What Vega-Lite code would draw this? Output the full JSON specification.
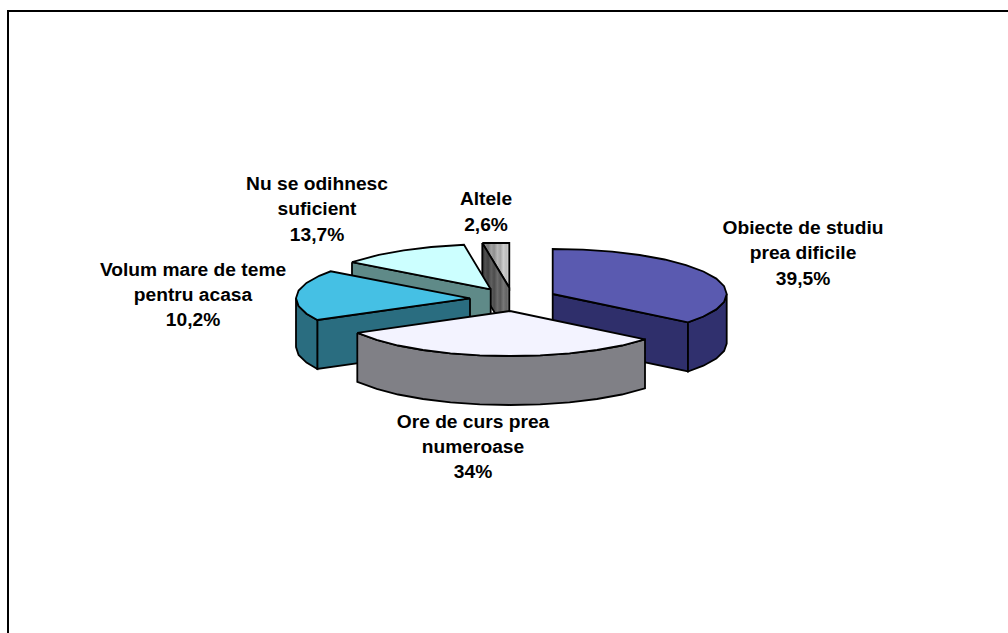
{
  "$schema": "https://vega.github.io/schema/vega-lite/v6.json",
  "autosize": {"type": "none"},
  "padding": 0,
  "width": 1008,
  "height": 633,
  "background": "white",
  "config": {"view": {"stroke": null}},
  "datasets": {
    "frame": [
      {"x": 8, "y": 633, "i": 1},
      {"x": 8, "y": 11, "i": 2},
      {"x": 1008, "y": 11, "i": 3}
    ],
    "faces": [
      {"part": "b_odihna_side", "i": 1, "x": 352, "y": 262.2},
      {"part": "b_odihna_side", "i": 2, "x": 490.7, "y": 289.3},
      {"part": "b_odihna_side", "i": 3, "x": 490.7, "y": 338},
      {"part": "b_odihna_side", "i": 4, "x": 352, "y": 311},
      {"part": "b_odihna_side", "i": 5, "x": 352, "y": 262.2},

      {"part": "c_odihna_top", "i": 1, "x": 490.7, "y": 289.3},
      {"part": "c_odihna_top", "i": 2, "x": 464, "y": 244.8},
      {"part": "c_odihna_top", "i": 3, "x": 431.2, "y": 247},
      {"part": "c_odihna_top", "i": 4, "x": 403.7, "y": 250.3},
      {"part": "c_odihna_top", "i": 5, "x": 378.8, "y": 254.8},
      {"part": "c_odihna_top", "i": 6, "x": 352, "y": 262.2},
      {"part": "c_odihna_top", "i": 7, "x": 490.7, "y": 289.3},

      {"part": "d_obiecte_front", "i": 1, "x": 552.7, "y": 294},
      {"part": "d_obiecte_front", "i": 2, "x": 688, "y": 322.3},
      {"part": "d_obiecte_front", "i": 3, "x": 688, "y": 371.5},
      {"part": "d_obiecte_front", "i": 4, "x": 552.7, "y": 343},
      {"part": "d_obiecte_front", "i": 5, "x": 552.7, "y": 294},

      {"part": "e_obiecte_rim", "i": 1, "x": 688, "y": 322.3},
      {"part": "e_obiecte_rim", "i": 2, "x": 703.4, "y": 316.5},
      {"part": "e_obiecte_rim", "i": 3, "x": 716.3, "y": 309.4},
      {"part": "e_obiecte_rim", "i": 4, "x": 724.1, "y": 301.8},
      {"part": "e_obiecte_rim", "i": 5, "x": 726.7, "y": 294},
      {"part": "e_obiecte_rim", "i": 6, "x": 726.7, "y": 343.5},
      {"part": "e_obiecte_rim", "i": 7, "x": 724.1, "y": 351},
      {"part": "e_obiecte_rim", "i": 8, "x": 716.3, "y": 358.6},
      {"part": "e_obiecte_rim", "i": 9, "x": 703.4, "y": 365.7},
      {"part": "e_obiecte_rim", "i": 10, "x": 688, "y": 371.5},
      {"part": "e_obiecte_rim", "i": 11, "x": 688, "y": 322.3},

      {"part": "f_obiecte_top", "i": 1, "x": 552.7, "y": 294},
      {"part": "f_obiecte_top", "i": 2, "x": 552.7, "y": 249},
      {"part": "f_obiecte_top", "i": 3, "x": 583, "y": 249.7},
      {"part": "f_obiecte_top", "i": 4, "x": 612.2, "y": 251.7},
      {"part": "f_obiecte_top", "i": 5, "x": 639.7, "y": 255},
      {"part": "f_obiecte_top", "i": 6, "x": 664.6, "y": 259.5},
      {"part": "f_obiecte_top", "i": 7, "x": 686, "y": 265.1},
      {"part": "f_obiecte_top", "i": 8, "x": 703.4, "y": 271.5},
      {"part": "f_obiecte_top", "i": 9, "x": 716.3, "y": 278.6},
      {"part": "f_obiecte_top", "i": 10, "x": 724.1, "y": 286.2},
      {"part": "f_obiecte_top", "i": 11, "x": 726.7, "y": 294},
      {"part": "f_obiecte_top", "i": 12, "x": 724.1, "y": 301.8},
      {"part": "f_obiecte_top", "i": 13, "x": 716.3, "y": 309.4},
      {"part": "f_obiecte_top", "i": 14, "x": 703.4, "y": 316.5},
      {"part": "f_obiecte_top", "i": 15, "x": 688, "y": 322.3},
      {"part": "f_obiecte_top", "i": 16, "x": 552.7, "y": 294},

      {"part": "g_volum_front", "i": 1, "x": 470, "y": 298.3},
      {"part": "g_volum_front", "i": 2, "x": 470, "y": 347.3},
      {"part": "g_volum_front", "i": 3, "x": 317.3, "y": 369},
      {"part": "g_volum_front", "i": 4, "x": 317.3, "y": 320},
      {"part": "g_volum_front", "i": 5, "x": 470, "y": 298.3},

      {"part": "h_volum_rim", "i": 1, "x": 317.3, "y": 320},
      {"part": "h_volum_rim", "i": 2, "x": 306.5, "y": 313.7},
      {"part": "h_volum_rim", "i": 3, "x": 298.6, "y": 306.1},
      {"part": "h_volum_rim", "i": 4, "x": 296, "y": 298.3},
      {"part": "h_volum_rim", "i": 5, "x": 296, "y": 347},
      {"part": "h_volum_rim", "i": 6, "x": 298.6, "y": 355},
      {"part": "h_volum_rim", "i": 7, "x": 306.5, "y": 362.6},
      {"part": "h_volum_rim", "i": 8, "x": 317.3, "y": 369},
      {"part": "h_volum_rim", "i": 9, "x": 317.3, "y": 320},

      {"part": "i_volum_top", "i": 1, "x": 470, "y": 298.3},
      {"part": "i_volum_top", "i": 2, "x": 330.7, "y": 271.3},
      {"part": "i_volum_top", "i": 3, "x": 319.3, "y": 275.8},
      {"part": "i_volum_top", "i": 4, "x": 306.5, "y": 282.9},
      {"part": "i_volum_top", "i": 5, "x": 298.6, "y": 290.5},
      {"part": "i_volum_top", "i": 6, "x": 296, "y": 298.3},
      {"part": "i_volum_top", "i": 7, "x": 298.6, "y": 306.1},
      {"part": "i_volum_top", "i": 8, "x": 306.5, "y": 313.7},
      {"part": "i_volum_top", "i": 9, "x": 317.3, "y": 320},
      {"part": "i_volum_top", "i": 10, "x": 470, "y": 298.3},

      {"part": "j_ore_rim", "i": 1, "x": 357.3, "y": 332.9},
      {"part": "j_ore_rim", "i": 2, "x": 376.7, "y": 339.9},
      {"part": "j_ore_rim", "i": 3, "x": 398.1, "y": 345.5},
      {"part": "j_ore_rim", "i": 4, "x": 423, "y": 350},
      {"part": "j_ore_rim", "i": 5, "x": 450.5, "y": 353.3},
      {"part": "j_ore_rim", "i": 6, "x": 479.8, "y": 355.3},
      {"part": "j_ore_rim", "i": 7, "x": 510, "y": 356},
      {"part": "j_ore_rim", "i": 8, "x": 540.2, "y": 355.3},
      {"part": "j_ore_rim", "i": 9, "x": 569.5, "y": 353.3},
      {"part": "j_ore_rim", "i": 10, "x": 597, "y": 350},
      {"part": "j_ore_rim", "i": 11, "x": 621.9, "y": 345.5},
      {"part": "j_ore_rim", "i": 12, "x": 645, "y": 339.3},
      {"part": "j_ore_rim", "i": 13, "x": 645, "y": 388.3},
      {"part": "j_ore_rim", "i": 14, "x": 621.9, "y": 394.5},
      {"part": "j_ore_rim", "i": 15, "x": 597, "y": 399},
      {"part": "j_ore_rim", "i": 16, "x": 569.5, "y": 402.3},
      {"part": "j_ore_rim", "i": 17, "x": 540.2, "y": 404.3},
      {"part": "j_ore_rim", "i": 18, "x": 510, "y": 405},
      {"part": "j_ore_rim", "i": 19, "x": 479.8, "y": 404.3},
      {"part": "j_ore_rim", "i": 20, "x": 450.5, "y": 402.3},
      {"part": "j_ore_rim", "i": 21, "x": 423, "y": 399},
      {"part": "j_ore_rim", "i": 22, "x": 398.1, "y": 394.5},
      {"part": "j_ore_rim", "i": 23, "x": 376.7, "y": 388.9},
      {"part": "j_ore_rim", "i": 24, "x": 357.3, "y": 381.9},
      {"part": "j_ore_rim", "i": 25, "x": 357.3, "y": 332.9},

      {"part": "k_ore_top", "i": 1, "x": 510, "y": 311},
      {"part": "k_ore_top", "i": 2, "x": 357.3, "y": 332.9},
      {"part": "k_ore_top", "i": 3, "x": 376.7, "y": 339.9},
      {"part": "k_ore_top", "i": 4, "x": 398.1, "y": 345.5},
      {"part": "k_ore_top", "i": 5, "x": 423, "y": 350},
      {"part": "k_ore_top", "i": 6, "x": 450.5, "y": 353.3},
      {"part": "k_ore_top", "i": 7, "x": 479.8, "y": 355.3},
      {"part": "k_ore_top", "i": 8, "x": 510, "y": 356},
      {"part": "k_ore_top", "i": 9, "x": 540.2, "y": 355.3},
      {"part": "k_ore_top", "i": 10, "x": 569.5, "y": 353.3},
      {"part": "k_ore_top", "i": 11, "x": 597, "y": 350},
      {"part": "k_ore_top", "i": 12, "x": 621.9, "y": 345.5},
      {"part": "k_ore_top", "i": 13, "x": 645, "y": 339.3},
      {"part": "k_ore_top", "i": 14, "x": 510, "y": 311}
    ],
    "altele_top": [
      {"i": 1, "x": 482.3, "y": 243},
      {"i": 2, "x": 509.3, "y": 243},
      {"i": 3, "x": 509.3, "y": 287.7},
      {"i": 4, "x": 482.3, "y": 243}
    ],
    "altele_side": [
      {"i": 1, "x": 482.3, "y": 243},
      {"i": 2, "x": 509.3, "y": 287.7},
      {"i": 3, "x": 509.3, "y": 337},
      {"i": 4, "x": 482.3, "y": 292},
      {"i": 5, "x": 482.3, "y": 243}
    ],
    "labels": [
      {"x": 803, "y": 228, "text": "Obiecte de studiu"},
      {"x": 803, "y": 253, "text": "prea dificile"},
      {"x": 803, "y": 279, "text": "39,5%"},
      {"x": 317, "y": 184, "text": "Nu se odihnesc"},
      {"x": 317, "y": 209, "text": "suficient"},
      {"x": 317, "y": 235, "text": "13,7%"},
      {"x": 486, "y": 199, "text": "Altele"},
      {"x": 486, "y": 225, "text": "2,6%"},
      {"x": 193, "y": 270, "text": "Volum mare de teme"},
      {"x": 193, "y": 295, "text": "pentru acasa"},
      {"x": 193, "y": 320, "text": "10,2%"},
      {"x": 473, "y": 422, "text": "Ore de curs prea"},
      {"x": 473, "y": 447, "text": "numeroase"},
      {"x": 473, "y": 472, "text": "34%"}
    ]
  },
  "encoding": {
    "x": {"field": "x", "type": "quantitative", "axis": null, "scale": {"domain": [0, 1008], "nice": false, "zero": false}},
    "y": {"field": "y", "type": "quantitative", "axis": null, "scale": {"domain": [633, 0], "nice": false, "zero": false}}
  },
  "layer": [
    {
      "data": {"name": "frame"},
      "mark": {"type": "line", "stroke": "black", "strokeWidth": 2, "clip": true},
      "encoding": {"order": {"field": "i"}}
    },
    {
      "data": {"name": "altele_top"},
      "mark": {
        "type": "line",
        "stroke": "black",
        "strokeWidth": 1.8,
        "fill": {
          "gradient": "linear", "x1": 0, "y1": 0, "x2": 1, "y2": 0,
          "stops": [
            {"offset": 0, "color": "#6a6a6a"},
            {"offset": 0.11, "color": "#8c8c8c"},
            {"offset": 0.22, "color": "#7c7c7c"},
            {"offset": 0.33, "color": "#a2a2a2"},
            {"offset": 0.44, "color": "#909090"},
            {"offset": 0.56, "color": "#b8b8b8"},
            {"offset": 0.67, "color": "#a6a6a6"},
            {"offset": 0.78, "color": "#cecece"},
            {"offset": 0.89, "color": "#bcbcbc"},
            {"offset": 1, "color": "#dedede"}
          ]
        }
      },
      "encoding": {"order": {"field": "i"}}
    },
    {
      "data": {"name": "altele_side"},
      "mark": {
        "type": "line",
        "stroke": "black",
        "strokeWidth": 1.8,
        "fill": {
          "gradient": "linear", "x1": 0, "y1": 0, "x2": 1, "y2": 0,
          "stops": [
            {"offset": 0, "color": "#303030"},
            {"offset": 0.11, "color": "#505050"},
            {"offset": 0.22, "color": "#404040"},
            {"offset": 0.33, "color": "#606060"},
            {"offset": 0.44, "color": "#4c4c4c"},
            {"offset": 0.56, "color": "#6c6c6c"},
            {"offset": 0.67, "color": "#585858"},
            {"offset": 0.78, "color": "#787878"},
            {"offset": 0.89, "color": "#646464"},
            {"offset": 1, "color": "#848484"}
          ]
        }
      },
      "encoding": {"order": {"field": "i"}}
    },
    {
      "data": {"name": "faces"},
      "mark": {"type": "line", "stroke": "black", "strokeWidth": 1.8, "strokeJoin": "miter"},
      "encoding": {
        "order": {"field": "i"},
        "detail": {"field": "part"},
        "fill": {
          "field": "part",
          "type": "nominal",
          "legend": null,
          "scale": {
            "domain": ["b_odihna_side", "c_odihna_top", "d_obiecte_front", "e_obiecte_rim", "f_obiecte_top", "g_volum_front", "h_volum_rim", "i_volum_top", "j_ore_rim", "k_ore_top"],
            "range": ["#5f8a88", "#ccffff", "#2f2f6b", "#30306e", "#5a5ab0", "#2a6d80", "#2a6d80", "#45c0e4", "#808086", "#f3f3ff"]
          }
        }
      }
    },
    {
      "data": {"name": "labels"},
      "mark": {"type": "text", "font": "Liberation Sans", "fontWeight": "bold", "fontSize": 19.2, "align": "center", "baseline": "middle", "color": "black"},
      "encoding": {"text": {"field": "text", "type": "nominal"}}
    }
  ]
}
